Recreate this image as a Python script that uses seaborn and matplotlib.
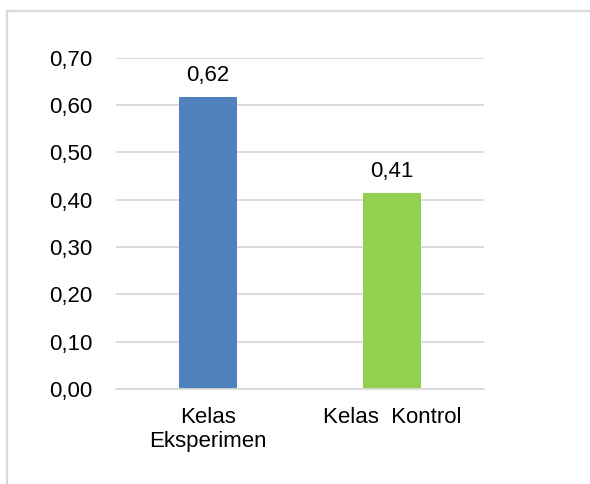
import matplotlib
matplotlib.use("Agg")
import matplotlib.pyplot as plt
import seaborn as sns
from matplotlib.patches import Rectangle

categories = ["Kelas\nEksperimen", "Kelas  Kontrol"]
values = [0.616, 0.414]
colors = ["#4F81BD", "#92D050"]
yticks = [0.0, 0.1, 0.2, 0.3, 0.4, 0.5, 0.6, 0.7]

sns.set_theme(style="white")
plt.rcParams["font.family"] = ["Liberation Sans", "DejaVu Sans"]

W, H = 590, 484
fig = plt.figure(figsize=(W / 100, H / 100), dpi=100)
ax = fig.add_axes([116 / W, 1 - 389 / H, (484 - 116) / W, (389 - 57.5) / H])

sns.barplot(x=categories, y=values, hue=categories, palette=colors,
            width=0.315, ax=ax, legend=False, saturation=1, linewidth=0)

ax.set_ylim(0, 0.70)
ax.set_xlim(-0.5, 1.5)
ax.set_yticks(yticks)
ax.set_yticklabels([f"{v:.2f}".replace(".", ",") for v in yticks])
ax.yaxis.grid(True, color="#D9D9D9", linewidth=1.3)
ax.set_axisbelow(True)
for s in ["top", "right", "left"]:
    ax.spines[s].set_visible(False)
ax.spines["bottom"].set_color("#D9D9D9")
ax.spines["bottom"].set_linewidth(1.3)
ax.tick_params(axis="y", length=0, pad=17, labelsize=16, colors="black")
ax.tick_params(axis="x", length=0, pad=13, labelsize=16, colors="black")
ax.set_xlabel("")
ax.set_ylabel("")

for cont in ax.containers:
    ax.bar_label(cont, labels=[f"{v:.2f}".replace(".", ",") for v in cont.datavalues],
                 padding=8, fontsize=16, color="black")

fig.patches.append(Rectangle((7 / W, -0.1), 1.2, 1.1 - 11 / H,
                             transform=fig.transFigure, fill=False,
                             edgecolor="#D9D9D9", linewidth=1.6, clip_on=False))

fig.savefig("out.png", dpi=100, facecolor="white")
